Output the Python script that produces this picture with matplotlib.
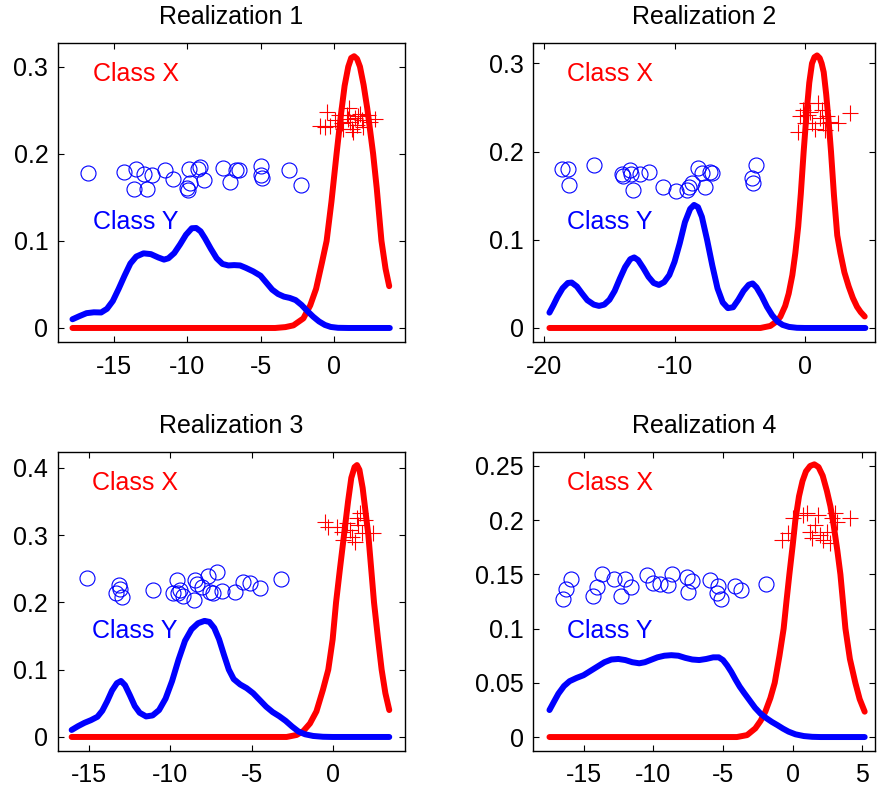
import matplotlib
matplotlib.use("Agg")
import matplotlib.pyplot as plt

plt.rcParams['font.family'] = ['Liberation Sans', 'DejaVu Sans']
plt.rcParams['axes.unicode_minus'] = False

titles = ["Realization 1", "Realization 2", "Realization 3", "Realization 4"]
label_x = "Class X"
label_y = "Class Y"

# ---------- Realization 1 ----------
r1_circ_x = [-16.8, -14.34, -13.55, -13.66, -12.75, -12.98, -12.4, -11.5, -10.98, -9.91, -9.16, -9.30,
             -9.8, -9.98, -10.0, -8.84, -7.57, -6.66, -7.07, -6.5, -4.96, -4.96, -4.91, -3.03, -2.23]
r1_circ_y = [0.178, 0.179, 0.183, 0.159, 0.160, 0.177, 0.176, 0.181, 0.171, 0.183, 0.185, 0.182,
             0.167, 0.158, 0.161, 0.170, 0.184, 0.181, 0.168, 0.181, 0.186, 0.176, 0.172, 0.181, 0.164]
r1_plus_x = [-0.48, -0.59, -0.25, 0.09, 0.55, 0.89, 1.07, 1.11, 1.23, 1.45, 1.57, 1.79, 1.91, 2.02,
             2.36, 2.47, 2.82, 1.34, 0.65, 0.38, 0.95, 1.65, -0.9]
r1_plus_y = [0.248, 0.231, 0.232, 0.239, 0.235, 0.245, 0.252, 0.237, 0.229, 0.241, 0.233, 0.246, 0.239, 0.231,
             0.245, 0.237, 0.240, 0.225, 0.229, 0.245, 0.240, 0.243, 0.232]
r1_blue_x = [-17.86, -17.4, -16.9, -16.4, -15.9, -15.5, -15.1, -14.7, -14.3, -13.9, -13.5, -13.0, -12.5,
             -12.0, -11.6, -11.3, -10.9, -10.5, -10.1, -9.7, -9.4, -9.1, -8.8, -8.4, -8.0, -7.6, -7.2, -6.8,
             -6.4, -6.0, -5.5, -5.0, -4.6, -4.2, -3.8, -3.4, -3.0, -2.6, -2.2, -1.8, -1.4, -1.0, -0.6, -0.2,
             0.3, 1.0, 3.84]
r1_blue_y = [0.010, 0.0135, 0.017, 0.018, 0.0178, 0.022, 0.031, 0.045, 0.060, 0.074, 0.082, 0.0857, 0.0848,
             0.081, 0.0785, 0.080, 0.086, 0.096, 0.107, 0.1145, 0.1148, 0.111, 0.103, 0.091, 0.080, 0.0735,
             0.0718, 0.0722, 0.0718, 0.069, 0.065, 0.060, 0.052, 0.044, 0.039, 0.036, 0.0345, 0.032, 0.0265,
             0.0195, 0.013, 0.0075, 0.0035, 0.0012, 0.0002, 0.0, 0.0]
r1_red_x = [-17.86, -4.0, -3.3, -2.75, -2.07, -1.6, -1.2, -0.8, -0.48, -0.15, 0.2, 0.5, 0.75, 1.0, 1.2,
            1.4, 1.6, 1.8, 2.05, 2.3, 2.5, 2.7, 2.95, 3.27, 3.55, 3.8]
r1_red_y = [0.0, 0.0, 0.001, 0.003, 0.011, 0.026, 0.045, 0.075, 0.100, 0.145, 0.200, 0.245, 0.278, 0.300,
            0.310, 0.312, 0.309, 0.300, 0.279, 0.252, 0.226, 0.200, 0.160, 0.100, 0.068, 0.048]

# ---------- Realization 2 ----------
r2_circ_x = [-18.67, -18.16, -18.1, -16.16, -14.06, -13.93, -13.42, -13.34, -12.65, -11.96, -13.16, -10.86,
             -9.88, -9.06, -8.89, -8.68, -8.22, -7.91, -7.66, -7.27, -7.14, -3.76, -4.07, -3.95]
r2_circ_y = [0.180, 0.180, 0.1625, 0.1845, 0.175, 0.172, 0.179, 0.175, 0.175, 0.177, 0.156, 0.160,
             0.155, 0.157, 0.160, 0.164, 0.181, 0.176, 0.1595, 0.177, 0.176, 0.185, 0.170, 0.164]
r2_plus_x = [-0.1, -0.49, -0.36, 0.28, 0.54, 0.79, 1.05, 1.31, 1.18, 1.43, 1.69, 1.56, 1.94, 2.58, 3.48,
             0.41, 0.02, 0.15]
r2_plus_y = [0.247, 0.2226, 0.240, 0.2415, 0.232, 0.226, 0.255, 0.247, 0.238, 0.232, 0.240, 0.2245, 0.234,
             0.232, 0.2435, 0.245, 0.232, 0.255]
r2_blue_x = [-19.61, -19.3, -19.0, -18.6, -18.2, -17.9, -17.5, -17.1, -16.7, -16.2, -15.8, -15.4, -15.0,
             -14.6, -14.2, -13.8, -13.4, -13.1, -12.8, -12.4, -12.0, -11.6, -11.2, -10.8, -10.4, -10.0, -9.6,
             -9.2, -8.8, -8.5, -8.2, -7.9, -7.5, -7.1, -6.7, -6.3, -5.9, -5.5, -5.1, -4.7, -4.3, -4.0, -3.7,
             -3.3, -2.9, -2.5, -2.1, -1.7, -1.2, -0.6, 0.0, 4.66]
r2_blue_y = [0.0174, 0.026, 0.035, 0.045, 0.051, 0.0515, 0.047, 0.039, 0.0315, 0.0265, 0.025, 0.0265, 0.032,
             0.042, 0.056, 0.069, 0.078, 0.080, 0.077, 0.068, 0.058, 0.051, 0.0488, 0.052, 0.060, 0.075, 0.096,
             0.120, 0.135, 0.1395, 0.137, 0.126, 0.100, 0.071, 0.045, 0.029, 0.0225, 0.0235, 0.032, 0.042,
             0.049, 0.0505, 0.046, 0.036, 0.024, 0.0145, 0.0075, 0.0035, 0.0012, 0.0002, 0.0, 0.0]
r2_red_x = [-19.61, -3.4, -2.64, -2.2, -1.87, -1.5, -1.23, -0.95, -0.72, -0.5, -0.3, -0.08, 0.15, 0.35,
            0.56, 0.75, 0.95, 1.15, 1.3, 1.46, 1.65, 1.85, 2.02, 2.25, 2.5, 2.74, 3.05, 3.38, 3.7, 4.02,
            4.3, 4.61]
r2_red_y = [0.0, 0.0, 0.0023, 0.007, 0.0128, 0.025, 0.039, 0.060, 0.085, 0.115, 0.152, 0.200, 0.245, 0.278,
            0.300, 0.307, 0.309, 0.306, 0.300, 0.290, 0.265, 0.232, 0.200, 0.150, 0.105, 0.085, 0.063, 0.047,
            0.034, 0.024, 0.018, 0.013]

# ---------- Realization 3 ----------
r3_circ_x = [-15.13, -13.16, -13.11, -13.36, -13.01, -11.06, -9.62, -9.41, -9.52, -9.21, -8.49, -8.38,
             -8.55, -8.08, -7.67, -7.15, -7.56, -7.36, -6.84, -6.02, -5.55, -5.10, -4.48, -3.21, -9.83]
r3_circ_y = [0.236, 0.2254, 0.2194, 0.2135, 0.2076, 0.2184, 0.2333, 0.2184, 0.2144, 0.2095, 0.2333, 0.2273,
             0.2036, 0.2224, 0.2392, 0.245, 0.2154, 0.2135, 0.2174, 0.2154, 0.2303, 0.2293, 0.2214, 0.2343,
             0.2135]
r3_plus_x = [-0.47, -0.27, 0.25, 0.55, 0.86, 1.07, 1.17, 1.48, 1.58, 1.68, 1.79, 1.99, 2.5, 1.37, 0.65]
r3_plus_y = [0.320, 0.3125, 0.3125, 0.305, 0.3175, 0.3076, 0.2976, 0.325, 0.315, 0.3324, 0.3027, 0.3224,
             0.3027, 0.290, 0.2927]
r3_blue_x = [-16.09, -15.7, -15.3, -14.9, -14.5, -14.2, -13.9, -13.6, -13.3, -13.05, -12.8, -12.5, -12.2,
             -11.9, -11.5, -11.1, -10.7, -10.3, -9.9, -9.5, -9.1, -8.7, -8.3, -7.9, -7.6, -7.3, -7.0, -6.7,
             -6.4, -6.1, -5.7, -5.3, -4.9, -4.5, -4.1, -3.7, -3.3, -2.9, -2.5, -2.1, -1.7, -1.2, -0.6, 0.0, 3.49]
r3_blue_y = [0.0104, 0.016, 0.021, 0.025, 0.030, 0.039, 0.053, 0.069, 0.080, 0.0832, 0.077, 0.062, 0.046,
             0.036, 0.0305, 0.032, 0.040, 0.057, 0.083, 0.115, 0.143, 0.160, 0.169, 0.1725, 0.171, 0.162,
             0.145, 0.122, 0.100, 0.086, 0.078, 0.0725, 0.065, 0.055, 0.045, 0.037, 0.031, 0.024, 0.0155,
             0.008, 0.004, 0.0015, 0.0003, 0.0, 0.0]
r3_red_x = [-16.09, -2.84, -2.22, -1.8, -1.4, -1.0, -0.6, -0.27, 0.0, 0.21, 0.45, 0.7, 0.95, 1.15, 1.35,
            1.5, 1.65, 1.85, 2.05, 2.2, 2.4, 2.55, 2.8, 3.02, 3.25, 3.49]
r3_red_y = [0.0, 0.0, 0.003, 0.009, 0.020, 0.038, 0.070, 0.100, 0.145, 0.200, 0.250, 0.300, 0.350, 0.385,
            0.401, 0.404, 0.397, 0.370, 0.330, 0.300, 0.243, 0.200, 0.145, 0.100, 0.065, 0.040]

# ---------- Realization 4 ----------
r4_circ_x = [-15.89, -16.27, -16.44, -13.69, -14.05, -14.29, -12.79, -12.02, -11.59, -12.31, -10.47, -9.99,
             -9.51, -8.92, -8.67, -7.6, -7.24, -7.48, -5.93, -5.33, -5.45, -5.14, -4.14, -3.71, -1.94]
r4_circ_y = [0.146, 0.1362, 0.127, 0.150, 0.138, 0.130, 0.146, 0.146, 0.1387, 0.130, 0.149, 0.1424,
             0.1411, 0.140, 0.150, 0.1473, 0.1442, 0.1338, 0.1448, 0.1393, 0.1326, 0.127, 0.1393, 0.1356, 0.1411]
r4_plus_x = [-0.79, -0.31, 0.05, 0.76, 1.0, 1.24, 1.36, 1.6, 1.84, 1.96, 2.2, 2.44, 2.8, 3.03, 3.15, 4.11, 2.67]
r4_plus_y = [0.1817, 0.188, 0.2017, 0.2048, 0.2063, 0.1894, 0.1833, 0.1956, 0.2048, 0.1863, 0.1817, 0.1894,
             0.2017, 0.2063, 0.1986, 0.2017, 0.1787]
r4_blue_x = [-17.44, -17.1, -16.8, -16.4, -16.0, -15.5, -15.0, -14.5, -14.0, -13.5, -13.0, -12.5, -12.0,
             -11.5, -11.0, -10.6, -10.2, -9.7, -9.2, -8.7, -8.2, -7.7, -7.2, -6.7, -6.2, -5.7, -5.3, -5.0,
             -4.7, -4.4, -4.1, -3.8, -3.5, -3.1, -2.7, -2.3, -1.9, -1.5, -1.1, -0.7, -0.3, 0.2, 0.8, 1.4,
             2.0, 5.16]
r4_blue_y = [0.0249, 0.033, 0.040, 0.047, 0.0515, 0.0545, 0.057, 0.061, 0.065, 0.069, 0.0715, 0.072, 0.071,
             0.069, 0.068, 0.069, 0.071, 0.0735, 0.075, 0.0755, 0.075, 0.073, 0.0715, 0.071, 0.072, 0.0735,
             0.0735, 0.071, 0.066, 0.060, 0.053, 0.0465, 0.041, 0.034, 0.027, 0.0215, 0.0175, 0.014, 0.011,
             0.0078, 0.005, 0.0025, 0.0009, 0.0002, 0.0, 0.0]
r4_red_x = [-17.44, -4.0, -3.27, -2.68, -2.3, -1.96, -1.6, -1.29, -0.95, -0.65, -0.45, -0.24, 0.0, 0.19,
            0.45, 0.7, 0.95, 1.25, 1.55, 1.85, 2.15, 2.45, 2.7, 2.94, 3.2, 3.42, 3.6, 3.78, 4.1, 4.49, 4.8, 5.16]
r4_red_y = [0.0, 0.0, 0.0018, 0.008, 0.015, 0.0235, 0.036, 0.050, 0.075, 0.100, 0.125, 0.150, 0.177, 0.200,
            0.222, 0.236, 0.245, 0.250, 0.2515, 0.249, 0.241, 0.227, 0.213, 0.195, 0.172, 0.150, 0.125, 0.100,
            0.072, 0.050, 0.035, 0.0234]

panels = [
    (r1_circ_x, r1_circ_y, r1_plus_x, r1_plus_y, r1_blue_x, r1_blue_y, r1_red_x, r1_red_y),
    (r2_circ_x, r2_circ_y, r2_plus_x, r2_plus_y, r2_blue_x, r2_blue_y, r2_red_x, r2_red_y),
    (r3_circ_x, r3_circ_y, r3_plus_x, r3_plus_y, r3_blue_x, r3_blue_y, r3_red_x, r3_red_y),
    (r4_circ_x, r4_circ_y, r4_plus_x, r4_plus_y, r4_blue_x, r4_blue_y, r4_red_x, r4_red_y),
]

xticks = [[-15, -10, -5, 0], [-20, -10, 0], [-15, -10, -5, 0], [-15, -10, -5, 0, 5]]
yticks = [[0, 0.1, 0.2, 0.3], [0, 0.1, 0.2, 0.3], [0, 0.1, 0.2, 0.3, 0.4], [0, 0.05, 0.1, 0.15, 0.2, 0.25]]
xlims = [(-18.85, 4.88), (-20.85, 5.40), (-16.95, 4.46), (-18.6, 5.9)]
ylims = [(-0.0161, 0.3272), (-0.0159, 0.3231), (-0.0204, 0.423), (-0.0126, 0.2626)]

W, H = 877, 791
boxes_px = [(58, 43, 405, 342), (533.3, 43, 875, 342), (57.7, 452.3, 405, 750.7), (533.3, 452.3, 875, 750.7)]

fig = plt.figure(figsize=(W / 100, H / 100), dpi=100)
FS = 18
for i, (cx, cy, px, py, bx, by, rx, ry) in enumerate(panels):
    l, t, r, b = boxes_px[i]
    ax = fig.add_axes([l / W, 1 - b / H, (r - l) / W, (b - t) / H])
    ax.plot(rx, ry, color='#ff0000', lw=4.3, solid_capstyle='round', solid_joinstyle='round', zorder=2)
    ax.plot(bx, by, color='#0000ff', lw=4.3, solid_capstyle='round', solid_joinstyle='round', zorder=3)
    ax.plot(cx, cy, linestyle='none', marker='o', markersize=10.8, markerfacecolor='none',
            markeredgecolor='#0000ff', markeredgewidth=0.8, zorder=4)
    ax.plot(px, py, linestyle='none', marker='+', markersize=11.5, markeredgecolor='#ff0000',
            markeredgewidth=0.8, zorder=4)
    ax.text(0.1, 0.896, label_x, color='#ff0000', fontsize=FS, transform=ax.transAxes, ha='left', va='center')
    ax.text(0.1, 0.40, label_y, color='#0000ff', fontsize=FS, transform=ax.transAxes, ha='left', va='center')
    ax.set_xlim(*xlims[i])
    ax.set_ylim(*ylims[i])
    ax.set_xticks(xticks[i])
    ax.set_yticks(yticks[i])
    ax.set_xticklabels(['%g' % v for v in xticks[i]])
    ax.set_yticklabels(['%g' % v for v in yticks[i]])
    ax.tick_params(direction='in', top=True, right=True, length=4, width=0.8, labelsize=FS)
    ax.tick_params(axis='x', pad=9)
    ax.tick_params(axis='y', pad=7)
    for s in ax.spines.values():
        s.set_linewidth(1.0)
    ax.set_title(titles[i], fontsize=FS, pad=14)

fig.savefig('out.png', dpi=100)
